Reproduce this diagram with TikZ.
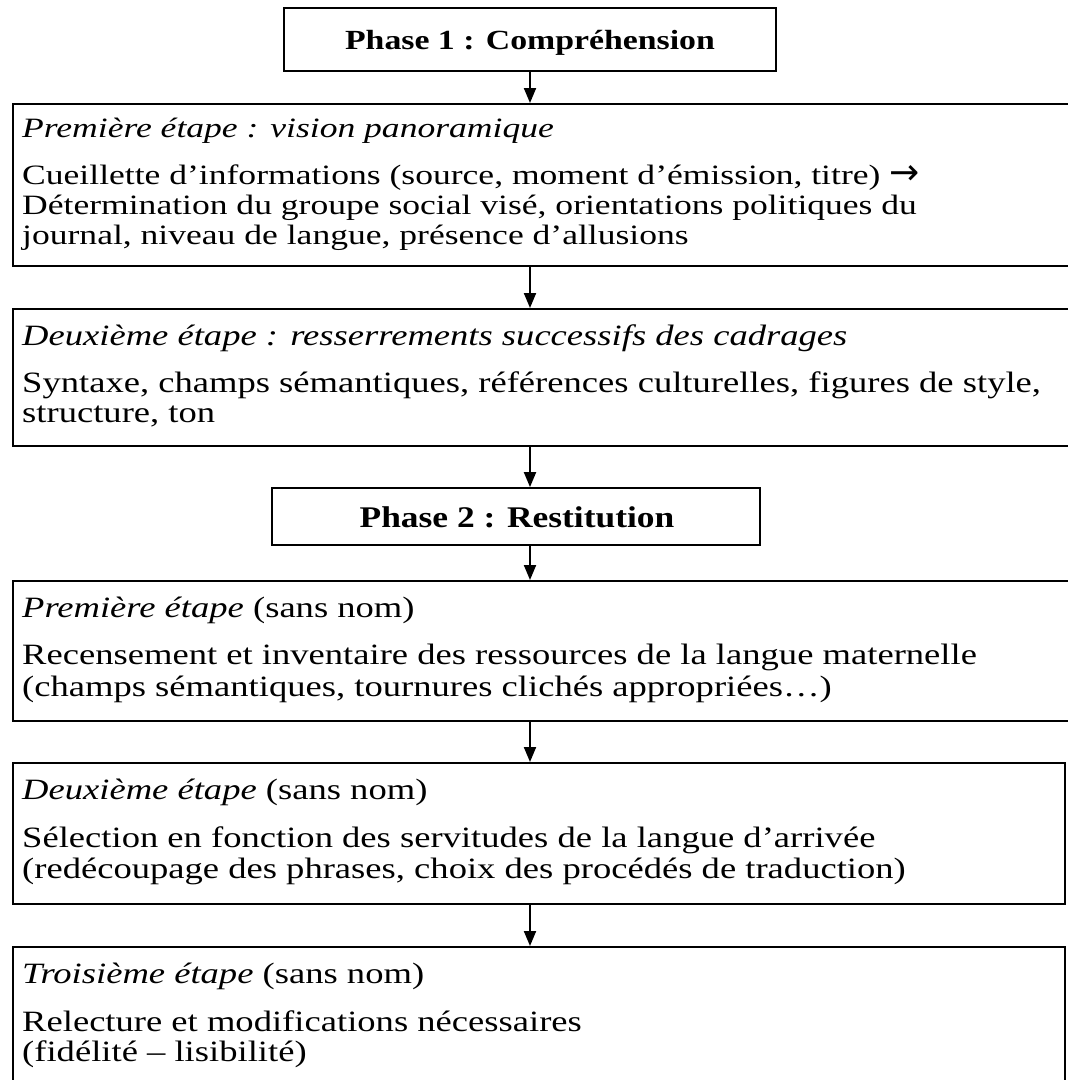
\documentclass[tikz,border=0pt]{standalone}
\usepackage{fontspec}
\setmainfont{Liberation Serif}
\newfontfamily\faceA[FakeStretch=1.27]{Liberation Serif}
\newfontfamily\faceB[FakeStretch=1.24]{Liberation Serif}
\newfontfamily\facePone[FakeStretch=1.22]{Liberation Serif}
\newfontfamily\facePtwo[FakeStretch=1.18]{Liberation Serif}
\newfontfamily\arrowface{DejaVu Sans}
\usetikzlibrary{arrows.meta}

\tikzset{
  box/.style={draw=black, line width=1.8pt, fill=none, anchor=north west, inner sep=0pt},
  phasebox/.style={draw=black, line width=1.8pt, inner sep=0pt},
  linea/.style={anchor=base west, inner sep=0pt, font={\faceA\fontsize{28}{30}\selectfont}},
  lineb/.style={anchor=base west, inner sep=0pt, font={\faceB\fontsize{29.5}{30}\selectfont}},
  phaseonetext/.style={anchor=base, inner sep=0pt, font={\facePone\bfseries\fontsize{27.7}{30}\selectfont}},
  phasetwotext/.style={anchor=base, inner sep=0pt, font={\facePtwo\bfseries\fontsize{30}{32}\selectfont}},
  flow/.style={line width=2pt, -{Triangle[length=15pt, width=12pt]}}
}

\begin{document}
\begin{tikzpicture}[x=1pt, y=-1pt]
  \useasboundingbox (0,0) rectangle (1068,1080);
  \fill[white] (0,0) rectangle (1068,1080);
  \clip (0,0) rectangle (1068,1080);

  % column of the connectors
  \coordinate (axis) at (530,0);

  % Phase 1
  \node[phasebox, minimum width=492pt, minimum height=63pt] (p1) at (530,39.5) {};
  \node[phaseonetext] (p1t) at (530,49) {Phase 1 : Compréhension};

  % first step of phase 1
  \node[box, minimum width=1066pt, minimum height=162pt] (sa) at (12,103) {};
  \node[linea] (sa0) at (22,137) {\itshape Première étape : vision panoramique};
  \node[linea] (sa1) at (22,184) {Cueillette d’informations (source, moment d’émission, titre) {\arrowface\fontsize{36}{36}\selectfont →}};
  \node[linea] (sa2) at (22,214) {Détermination du groupe social visé, orientations politiques du};
  \node[linea] (sa3) at (22,244) {journal, niveau de langue, présence d’allusions};

  % second step of phase 1
  \node[box, minimum width=1066pt, minimum height=137pt] (sb) at (12,308) {};
  \node[lineb] (sb0) at (22,345) {\itshape Deuxième étape : resserrements successifs des cadrages};
  \node[lineb] (sb1) at (22,392) {Syntaxe, champs sémantiques, références culturelles, figures de style,};
  \node[lineb] (sb2) at (22,422) {structure, ton};

  % Phase 2
  \node[phasebox, minimum width=488pt, minimum height=57pt] (p2) at (516,516.5) {};
  \node[phasetwotext] (p2t) at (517,527) {Phase 2 : Restitution};

  % first step of phase 2
  \node[box, minimum width=1066pt, minimum height=140pt] (sc) at (12,580) {};
  \node[lineb] (sc0) at (22,617) {\textit{Première étape} (sans nom)};
  \node[lineb] (sc1) at (22,664) {Recensement et inventaire des ressources de la langue maternelle};
  \node[lineb] (sc2) at (22,696) {(champs sémantiques, tournures clichés appropriées…)};

  % second step of phase 2
  \node[box, minimum width=1052pt, minimum height=141pt] (sd) at (12,762) {};
  \node[lineb] (sd0) at (22,799) {\textit{Deuxième étape} (sans nom)};
  \node[lineb] (sd1) at (22,847) {Sélection en fonction des servitudes de la langue d’arrivée};
  \node[lineb] (sd2) at (22,878) {(redécoupage des phrases, choix des procédés de traduction)};

  % third step of phase 2 (runs past the lower edge)
  \node[box, minimum width=1052pt, minimum height=140pt] (se) at (12,946) {};
  \node[lineb] (se0) at (22,983) {\textit{Troisième étape} (sans nom)};
  \node[lineb] (se1) at (22,1031) {Relecture et modifications nécessaires};
  \node[lineb] (se2) at (22,1061) {(fidélité – lisibilité)};

  % connectors
  \draw[flow] (p1.south -| axis) -- (sa.north -| axis);
  \draw[flow] (sa.south -| axis) -- (sb.north -| axis);
  \draw[flow] (sb.south -| axis) -- (p2.north -| axis);
  \draw[flow] (p2.south -| axis) -- (sc.north -| axis);
  \draw[flow] (sc.south -| axis) -- (sd.north -| axis);
  \draw[flow] (sd.south -| axis) -- (se.north -| axis);
\end{tikzpicture}
\end{document}
